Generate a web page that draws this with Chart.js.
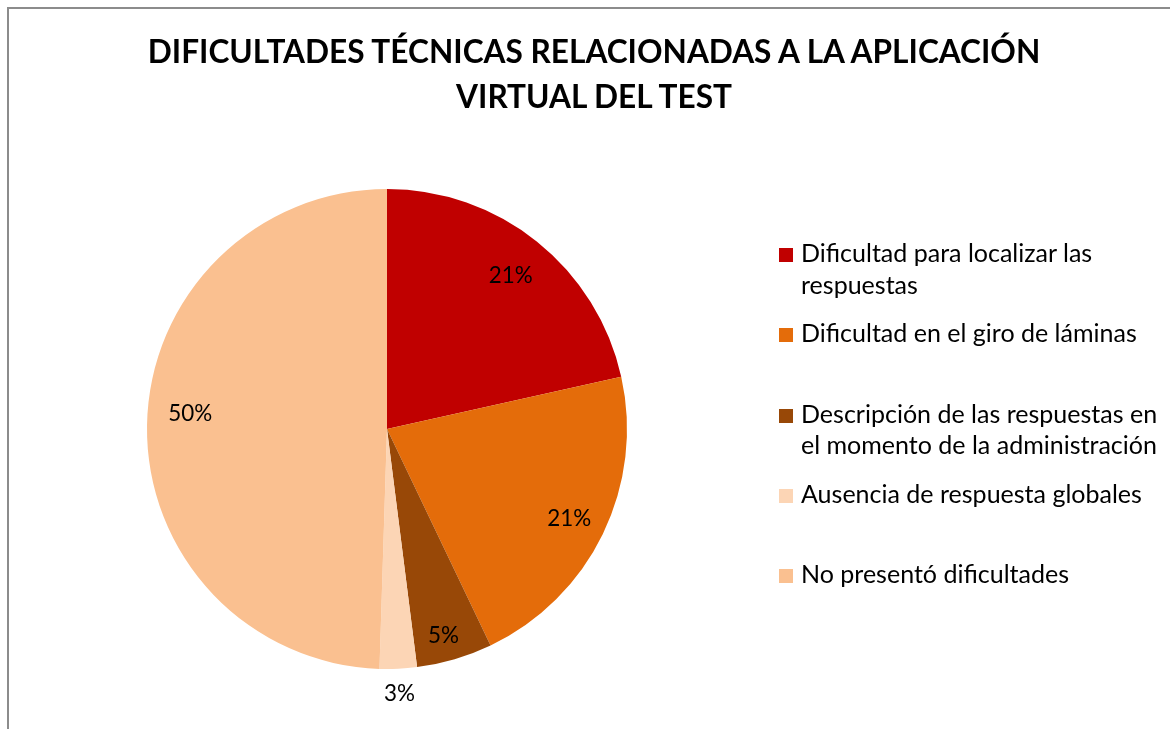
<!DOCTYPE html>
<html><head><meta charset="utf-8">
<script src="https://cdn.jsdelivr.net/npm/chart.js@4.4.1/dist/chart.umd.min.js"></script>
<style>
html,body{margin:0;padding:0;background:#fff;}
#wrap{position:relative;width:1170px;height:729px;overflow:hidden;background:#fff;font-family:Lato,"Open Sans",sans-serif;}
#frame{position:absolute;left:7px;top:7px;width:1300px;height:900px;border-left:2px solid #8c8c8c;border-top:2px solid #8c8c8c;}
#title{position:absolute;left:0;top:0;width:1188px;text-align:center;font-weight:bold;color:#000;line-height:45px;white-space:pre;}
#c{position:absolute;left:0;top:0;}
.item{position:absolute;left:779px;top:0;}
.mk{position:absolute;left:0;width:14px;height:14px;}
.tx{position:absolute;left:22px;top:0;white-space:pre;color:#000;line-height:31.5px;}
.bl{display:inline-block;width:0;height:0;vertical-align:baseline;}
</style></head>
<body>
<div id="wrap">
  <div id="frame"></div>
  <canvas id="c" width="1170" height="729"></canvas>
  <div id="title"></div>
  <div id="legend"></div>
</div>
<script>
// ---- data ----
const titleLines = ["DIFICULTADES TÉCNICAS RELACIONADAS A LA APLICACIÓN", "VIRTUAL DEL TEST"];
const categories = [
  "Dificultad para localizar las respuestas",
  "Dificultad en el giro de láminas",
  "Descripción de las respuestas en el momento de la administración",
  "Ausencia de respuesta globales",
  "No presentó dificultades"
];
const legendLines = [
  ["Dificultad para localizar las", "respuestas"],
  ["Dificultad en el giro de láminas"],
  ["Descripción de las respuestas en", "el momento de la administración"],
  ["Ausencia de respuesta globales"],
  ["No presentó dificultades"]
];
const values = [21.5, 21.4, 5.1, 2.5, 49.5];
const percentLabels = ["21%", "21%", "5%", "3%", "50%"];
const colors = ["#C00000", "#E46C0A", "#984807", "#FCD5B5", "#FAC090"];

// ---- style ----
const labelRadius = [0.824, 0.844, 0.888, 1.10, 0.823];
const labelAngleShift = [0, 0, 1, 0, 3.7];

function fit(text, weight, target) {
  const ctx = document.createElement('canvas').getContext('2d');
  ctx.font = weight + ' 100px Lato';
  return 100 * target / ctx.measureText(text).width;
}
const titleSize = fit(titleLines[0], 'bold', 898);
const legendSize = fit("el momento de la administración", 'normal', 356);
const labelSize = fit("21%", 'normal', 44);

// title
const titleEl = document.getElementById('title');
titleEl.style.fontSize = titleSize + 'px';
titleEl.innerHTML = '<span class="bl"></span>' + titleLines.join('\n');
const tb = titleEl.querySelector('.bl').getBoundingClientRect().top;
titleEl.style.top = (63 - tb) + 'px';

// legend
const legendEl = document.getElementById('legend');
categories.forEach((cat, i) => {
  const base = 262 + i * 80.25;
  const item = document.createElement('div');
  item.className = 'item';
  item.title = cat;
  const mk = document.createElement('div');
  mk.className = 'mk';
  mk.style.background = colors[i];
  mk.style.top = (base - 14) + 'px';
  const tx = document.createElement('div');
  tx.className = 'tx';
  tx.style.fontSize = legendSize + 'px';
  tx.innerHTML = '<span class="bl"></span>' + legendLines[i].join('\n');
  item.appendChild(mk);
  item.appendChild(tx);
  legendEl.appendChild(item);
  const b = tx.querySelector('.bl').getBoundingClientRect().top;
  tx.style.top = (base - b) + 'px';
});

const labelPlugin = {
  id: 'pctLabels',
  afterDatasetsDraw(chart) {
    const ctx = chart.ctx;
    const meta = chart.getDatasetMeta(0);
    ctx.save();
    ctx.font = labelSize + 'px Lato';
    ctx.fillStyle = '#000';
    ctx.textAlign = 'center';
    ctx.textBaseline = 'alphabetic';
    meta.data.forEach((arc, i) => {
      const p = arc.getProps(['x', 'y', 'startAngle', 'endAngle', 'outerRadius'], true);
      const a = (p.startAngle + p.endAngle) / 2 + labelAngleShift[i] * Math.PI / 180;
      const r = p.outerRadius * labelRadius[i];
      ctx.fillText(percentLabels[i], p.x + Math.cos(a) * r, p.y + Math.sin(a) * r + labelSize * 0.36);
    });
    ctx.restore();
  }
};

new Chart(document.getElementById('c'), {
  type: 'pie',
  data: {
    labels: categories,
    datasets: [{ data: values, backgroundColor: colors, borderWidth: 0 }]
  },
  options: {
    responsive: false,
    animation: false,
    devicePixelRatio: 1,
    layout: { padding: { left: 147, right: 543, top: 189, bottom: 60 } },
    plugins: { legend: { display: false }, title: { display: false }, tooltip: { enabled: false } }
  },
  plugins: [labelPlugin]
});
</script>
</body></html>
